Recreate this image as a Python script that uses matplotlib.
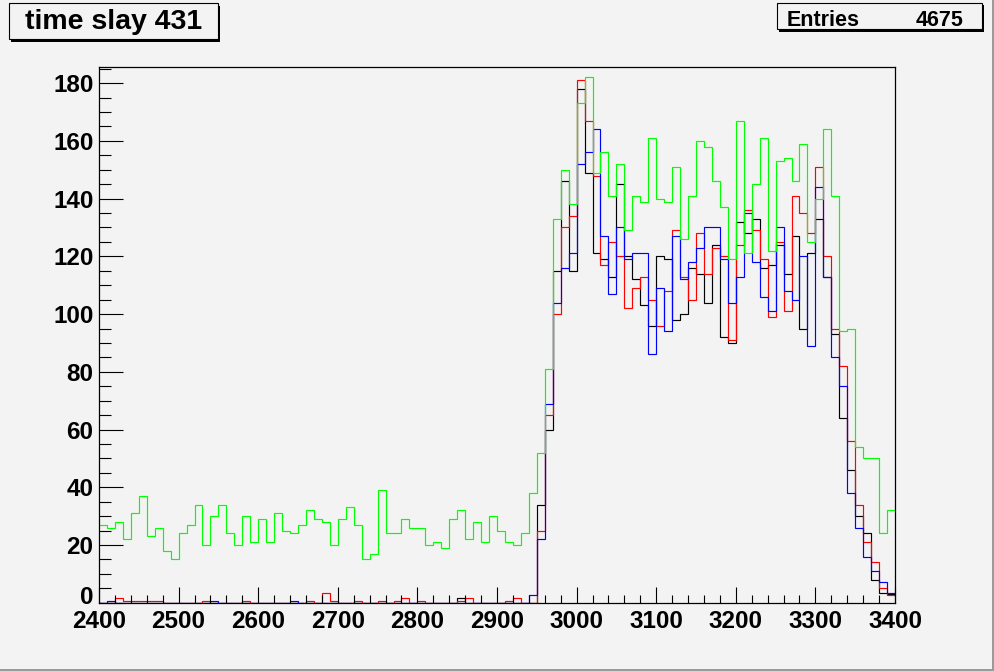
import matplotlib
matplotlib.use('Agg')
import matplotlib.pyplot as plt
from matplotlib.patches import Rectangle
from matplotlib.ticker import MultipleLocator
from matplotlib.transforms import ScaledTranslation
import numpy as np

plt.rcParams['font.family'] = ['Liberation Sans', 'DejaVu Sans']
plt.rcParams['font.weight'] = 'bold'

# bin edges: 100 bins of width 10 from 2400 to 3400
edges = np.arange(2400, 3401, 10)

black = [0, 0, 0, 0, 0, 0, 0, 0, 0, 0,
         0, 0, 0, 0, 0, 0, 0, 0, 0, 0,
         0, 0, 0, 0, 0, 0, 0, 0, 0, 0,
         0, 0, 0, 0, 0, 0, 0, 0, 0, 0,
         0, 0, 0, 0, 0, 1.5, 0, 0, 0, 0,
         0, 0, 0, 0, 0, 34, 60, 115, 146, 115,
         178, 149, 121, 119, 113, 145, 120, 112, 103, 96,
         120, 119, 98, 100, 116, 114, 104, 124, 92, 90,
         132, 128, 133, 116, 117, 124, 114, 127, 95, 121,
         133, 113, 93, 64, 46, 30, 24, 8, 3.5, 3]

red = [0, 0, 1.5, 0.5, 0.5, 0.5, 0.5, 0.5, 0, 0,
       0, 0, 0, 0.5, 0, 0, 0, 0, 0.5, 0,
       0, 0, 0, 0, 0, 0, 0.5, 0, 3.5, 0.5,
       0, 0, 0.5, 0, 0, 0.5, 0, 0.5, 1.5, 0,
       0.5, 0, 0, 0, 0, 0.5, 1.5, 0, 0, 0,
       0, 0.5, 1.5, 0, 0, 25, 65, 100, 130, 134,
       181, 167, 148, 117, 125, 120, 102, 109, 113, 105,
       96, 108, 129, 113, 105, 128, 114, 123, 120, 91,
       124, 136, 129, 119, 99, 125, 101, 141, 135, 128,
       151, 120, 95, 82, 56, 34, 21, 14, 5, 2.5]

blue = [0, 0.5, 0, 0, 0, 0, 0, 0, 0, 0,
        0, 0, 0, 0, 0.5, 0, 0, 0, 0, 0,
        0, 0, 0, 0, 0.5, 0, 0, 0, 0, 0,
        0, 0, 0, 0, 0, 0, 0, 0, 0, 0,
        0, 0, 0, 0, 0, 0, 0, 0, 0, 0,
        0, 0, 0, 0, 2.5, 22, 69, 104, 116, 121,
        152, 156, 164, 127, 107, 130, 119, 121, 121, 86,
        109, 94, 127, 112, 118, 123, 130, 130, 119, 104,
        113, 135, 118, 106, 101, 130, 108, 105, 120, 89,
        144, 113, 85, 75, 38, 26, 16, 11, 7, 3.5]

green = [27, 26, 28, 22, 31, 37, 23, 26, 18, 15,
         24, 27, 34, 20, 30, 34, 24, 20, 30, 21,
         29, 21, 31, 25, 24, 27, 32, 29, 28, 20,
         29, 33, 27, 15, 17, 39, 24, 24, 29, 26,
         26, 20, 21, 19, 29, 32, 22, 28, 21, 30,
         25, 21, 20, 24, 38, 52, 81, 133, 150, 138,
         173, 182, 149, 156, 141, 152, 129, 141, 139, 161,
         140, 139, 151, 126, 141, 160, 158, 146, 137, 119,
         167, 121, 145, 161, 122, 153, 154, 146, 159, 125,
         140, 164, 141, 94, 95, 54, 50, 50, 24, 32]

title = 'time slay 431'
entries = 4675

BG = '#f3f3f3'
W, H = 995, 671


def fx(px):
    return px / W


def fy(py):
    return 1 - py / H


fig = plt.figure(figsize=(W / 100, H / 100), dpi=100, facecolor=BG)
ax = fig.add_axes([fx(99), fy(602.7), fx(895 - 99), (602.7 - 67.3) / H])
ax.set_facecolor(BG)

for vals, col in [(black, '#000000'), (red, '#ff0000'),
                  (blue, '#0000ff'), (green, '#00ff00')]:
    ax.stairs(vals, edges, color=col, lw=0.85, baseline=None)

ax.set_xlim(2400, 3400)
ax.set_ylim(0, 185.5)
ax.xaxis.set_major_locator(MultipleLocator(100))
ax.xaxis.set_minor_locator(MultipleLocator(20))
ax.yaxis.set_major_locator(MultipleLocator(20))
ax.yaxis.set_minor_locator(MultipleLocator(5))
ax.tick_params(axis='x', which='major', direction='in', length=11.5,
               width=0.8, labelsize=17.5, pad=5)
ax.tick_params(axis='x', which='minor', direction='in', length=5.6, width=0.8)
ax.tick_params(axis='y', which='major', direction='in', length=17.3,
               width=0.8, labelsize=17.5, pad=4)
ax.tick_params(axis='y', which='minor', direction='in', length=8.8, width=0.8)
for sp in ax.spines.values():
    sp.set_linewidth(0.9)

# title pave with shadow
fig.patches.append(Rectangle((fx(11.5), fy(41.5)), fx(208.4), 36 / H,
                             transform=fig.transFigure, fc='black', ec='none'))
fig.patches.append(Rectangle((fx(9.3), fy(39.3)), fx(208.4), 36 / H,
                             transform=fig.transFigure, fc=BG, ec='black',
                             lw=0.8))
fig.text(fx(113.5), fy(22), title, ha='center', va='center',
         fontsize=20.5, fontweight='bold')

# stats pave with shadow
fig.patches.append(Rectangle((fx(779), fy(31.5)), fx(205), 26.6 / H,
                             transform=fig.transFigure, fc='black', ec='none'))
fig.patches.append(Rectangle((fx(776.7), fy(29.3)), fx(205), 26.6 / H,
                             transform=fig.transFigure, fc=BG, ec='black',
                             lw=0.8))
fig.text(fx(787), fy(26.2), 'Entries', ha='left', va='baseline',
         fontsize=15.5, fontweight='bold')
fig.text(fx(964), fy(26.2), str(entries), ha='right', va='baseline',
         fontsize=15.5, fontweight='bold')

# canvas border (bottom / right)
fig.patches.append(Rectangle((fx(0), 0), 1, 2.5 / H,
                             transform=fig.transFigure, fc='#9a9a9a', ec='none'))
fig.patches.append(Rectangle((fx(992.5), 0), fx(2.5), 1,
                             transform=fig.transFigure, fc='#9a9a9a', ec='none'))

# lift the "0" label a little above the x labels, as ROOT does
fig.canvas.draw()
for tick in ax.yaxis.get_major_ticks():
    if tick.get_loc() == 0:
        lab = tick.label1
        lab.set_transform(lab.get_transform() +
                          ScaledTranslation(0, 8 / 100, fig.dpi_scale_trans))

fig.savefig('out.png', dpi=100, facecolor=BG)
